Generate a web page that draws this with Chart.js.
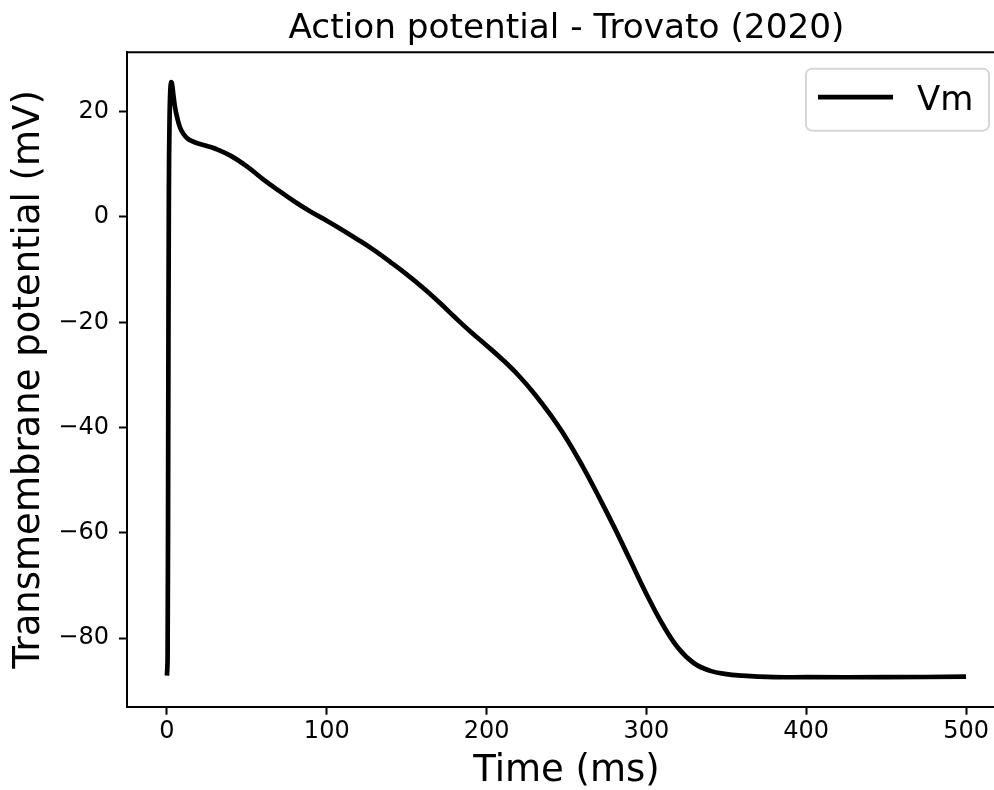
<!DOCTYPE html>
<html>
<head>
<meta charset="utf-8">
<script src="https://cdn.jsdelivr.net/npm/chart.js@4/dist/chart.umd.min.js"></script>
<style>
  html, body { margin: 0; padding: 0; overflow: hidden; background: #fff; }
  #wrap { width: 1010px; height: 790px; position: relative; }
</style>
</head>
<body>
<div id="wrap"><canvas id="ap"></canvas></div>
<script>
// Vm trace (ms, mV)
const timeMs = [0, 0.4, 0.8, 1.2, 1.6, 2.1, 2.7, 3.3, 4.0, 5, 6.3, 8.3, 10.5, 12.5, 15, 20, 25, 30, 40,
  50, 60, 70, 80, 90, 100, 110, 120, 130, 140, 150, 160, 170, 180, 190, 200, 210, 220, 230, 240,
  250, 260, 270, 280, 290, 300, 310, 320, 330, 340, 350, 360, 370, 380, 400, 450, 500];
const vm = [-87.1, -84, -40, 5, 18, 24, 25.6, 25.0, 23.2, 20.9, 19.0, 16.9, 15.7, 15.0, 14.5, 13.9, 13.5, 13.0, 11.6,
  9.6, 7.2, 5.0, 2.9, 1.0, -0.7, -2.5, -4.4, -6.4, -8.6, -10.9, -13.4, -16.1, -19.0, -21.8, -24.4, -27.1, -30.1, -33.6, -37.6,
  -42.1, -47.3, -53.0, -59.0, -65.3, -71.6, -77.3, -81.9, -84.8, -86.2, -86.8, -87.1, -87.3, -87.4, -87.4, -87.4, -87.3];

const xTicks = [0, 100, 200, 300, 400, 500];
const yTicks = [-80, -60, -40, -20, 0, 20];
const xLimits = [-25, 525];
const yLimits = [-93.0, 31.3];

const FONT = 'DejaVu Sans';

// top spine + matplotlib-style legend box
const frame = {
  id: 'frame',
  afterDraw(chart) {
    const { ctx, chartArea: ca } = chart;
    ctx.save();
    ctx.strokeStyle = '#000';
    ctx.lineWidth = 2;
    ctx.beginPath();
    ctx.moveTo(ca.left, ca.top);
    ctx.lineTo(ca.right, ca.top);
    ctx.stroke();

    const ds = chart.data.datasets[0];
    const bx = ca.right - 200, by = ca.top + 16.5, bw = 183, bh = 62;
    ctx.beginPath();
    ctx.roundRect(bx, by, bw, bh, 6);
    ctx.fillStyle = 'rgba(255,255,255,0.8)';
    ctx.fill();
    ctx.strokeStyle = '#d6d6d6';
    ctx.lineWidth = 2;
    ctx.stroke();

    ctx.strokeStyle = ds.borderColor;
    ctx.lineWidth = ds.borderWidth;
    ctx.beginPath();
    ctx.moveTo(bx + 12, by + 28.5);
    ctx.lineTo(bx + 87, by + 28.5);
    ctx.stroke();

    ctx.fillStyle = '#000';
    ctx.font = '34px "' + FONT + '"';
    ctx.textBaseline = 'alphabetic';
    ctx.textAlign = 'left';
    ctx.fillText(ds.label, bx + 111, by + 41);
    ctx.restore();
  }
};

const minus = v => v < 0 ? '\u2212' + Math.abs(v) : String(v);

new Chart(document.getElementById('ap'), {
  type: 'line',
  data: {
    datasets: [{
      label: 'Vm',
      data: timeMs.map((t, i) => ({ x: t, y: vm[i] })),
      borderColor: '#000',
      borderWidth: 4.7,
      pointRadius: 0,
      fill: false,
      tension: 0.4,
    }],
  },
  options: {
    responsive: true,
    maintainAspectRatio: false,
    animation: false,
    devicePixelRatio: 1,
    layout: { padding: { left: 0, right: 4, top: 0, bottom: 0 } },
    plugins: {
      legend: { display: false },
      tooltip: { enabled: false },
      title: {
        display: true,
        fullSize: false,
        text: 'Action potential - Trovato (2020)',
        color: '#000',
        font: { family: FONT, size: 34.3, weight: 'normal', lineHeight: 1.2 },
        padding: { top: 9, bottom: 2 },
      },
    },
    scales: {
      x: {
        type: 'linear',
        min: xLimits[0],
        max: xLimits[1],
        afterBuildTicks: s => { s.ticks = xTicks.map(v => ({ value: v })); },
        afterFit: s => { s.height = 83.3; },
        border: { color: '#000', width: 2 },
        grid: { drawOnChartArea: false, tickLength: 8, tickWidth: 2, tickColor: '#000' },
        ticks: { color: '#000', font: { family: FONT, size: 24 }, padding: 3, maxRotation: 0, callback: minus },
        title: {
          display: true, text: 'Time (ms)', color: '#000',
          font: { family: FONT, size: 37, lineHeight: 1 },
          padding: { top: 0, bottom: 0 },
        },
      },
      y: {
        min: yLimits[0],
        max: yLimits[1],
        afterBuildTicks: s => { s.ticks = yTicks.map(v => ({ value: v })); },
        afterFit: s => { s.width = 127; },
        border: { color: '#000', width: 2 },
        grid: { drawOnChartArea: false, tickLength: 8, tickWidth: 2, tickColor: '#000' },
        ticks: { color: '#000', font: { family: FONT, size: 24 }, padding: 10, callback: minus },
        title: {
          display: true, text: 'Transmembrane potential (mV)', color: '#000',
          font: { family: FONT, size: 37, lineHeight: 1.2 },
          padding: { top: 7, bottom: 0 },
        },
      },
    },
  },
  plugins: [frame],
});
</script>
</body>
</html>
